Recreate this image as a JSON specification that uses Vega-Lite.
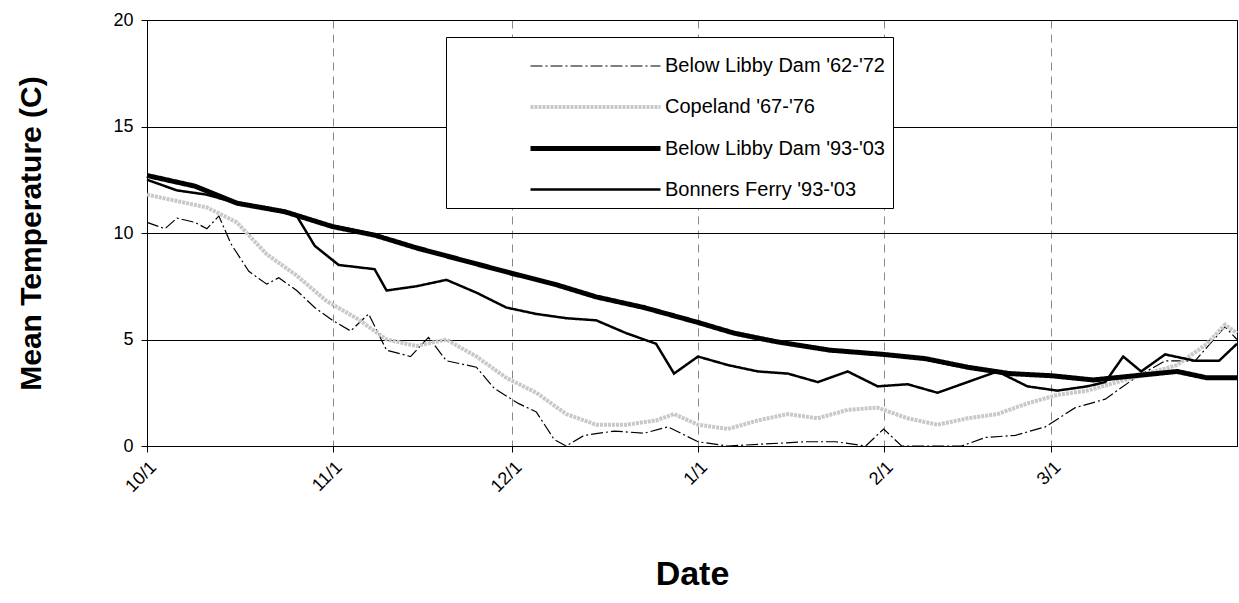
{
  "$schema": "https://vega.github.io/schema/vega-lite/v6.json",
  "width": 1090,
  "height": 426,
  "autosize": {"type": "none"},
  "padding": {"left": 147, "top": 20, "right": 2, "bottom": 157},
  "background": "white",
  "data": {"values": [
    {"s":"Below Libby Dam '62-'72","d":0,"t":10.5},{"s":"Below Libby Dam '62-'72","d":3,"t":10.2},{"s":"Below Libby Dam '62-'72","d":5,"t":10.7},{"s":"Below Libby Dam '62-'72","d":8,"t":10.5},{"s":"Below Libby Dam '62-'72","d":10,"t":10.2},{"s":"Below Libby Dam '62-'72","d":12,"t":10.8},{"s":"Below Libby Dam '62-'72","d":14,"t":9.5},{"s":"Below Libby Dam '62-'72","d":17,"t":8.2},{"s":"Below Libby Dam '62-'72","d":20,"t":7.6},{"s":"Below Libby Dam '62-'72","d":22,"t":7.9},{"s":"Below Libby Dam '62-'72","d":25,"t":7.3},{"s":"Below Libby Dam '62-'72","d":28,"t":6.5},{"s":"Below Libby Dam '62-'72","d":31,"t":5.9},{"s":"Below Libby Dam '62-'72","d":34,"t":5.4},{"s":"Below Libby Dam '62-'72","d":37,"t":6.2},{"s":"Below Libby Dam '62-'72","d":40,"t":4.5},{"s":"Below Libby Dam '62-'72","d":44,"t":4.2},{"s":"Below Libby Dam '62-'72","d":47,"t":5.1},{"s":"Below Libby Dam '62-'72","d":50,"t":4.0},{"s":"Below Libby Dam '62-'72","d":55,"t":3.7},{"s":"Below Libby Dam '62-'72","d":58,"t":2.7},{"s":"Below Libby Dam '62-'72","d":62,"t":2.0},{"s":"Below Libby Dam '62-'72","d":65,"t":1.6},{"s":"Below Libby Dam '62-'72","d":68,"t":0.3},{"s":"Below Libby Dam '62-'72","d":70,"t":0},{"s":"Below Libby Dam '62-'72","d":73,"t":0.5},{"s":"Below Libby Dam '62-'72","d":78,"t":0.7},{"s":"Below Libby Dam '62-'72","d":83,"t":0.6},{"s":"Below Libby Dam '62-'72","d":87,"t":0.9},{"s":"Below Libby Dam '62-'72","d":92,"t":0.2},{"s":"Below Libby Dam '62-'72","d":97,"t":0},{"s":"Below Libby Dam '62-'72","d":110,"t":0.2},{"s":"Below Libby Dam '62-'72","d":115,"t":0.2},{"s":"Below Libby Dam '62-'72","d":120,"t":0},{"s":"Below Libby Dam '62-'72","d":123,"t":0.8},{"s":"Below Libby Dam '62-'72","d":126,"t":0},{"s":"Below Libby Dam '62-'72","d":136,"t":0},{"s":"Below Libby Dam '62-'72","d":140,"t":0.4},{"s":"Below Libby Dam '62-'72","d":145,"t":0.5},{"s":"Below Libby Dam '62-'72","d":150,"t":0.9},{"s":"Below Libby Dam '62-'72","d":155,"t":1.8},{"s":"Below Libby Dam '62-'72","d":160,"t":2.2},{"s":"Below Libby Dam '62-'72","d":165,"t":3.2},{"s":"Below Libby Dam '62-'72","d":170,"t":4.0},{"s":"Below Libby Dam '62-'72","d":175,"t":4.0},{"s":"Below Libby Dam '62-'72","d":180,"t":5.6},{"s":"Below Libby Dam '62-'72","d":182,"t":5.0},

    {"s":"Copeland '67-'76","d":0,"t":11.8},{"s":"Copeland '67-'76","d":5,"t":11.5},{"s":"Copeland '67-'76","d":10,"t":11.2},{"s":"Copeland '67-'76","d":15,"t":10.5},{"s":"Copeland '67-'76","d":20,"t":9.0},{"s":"Copeland '67-'76","d":25,"t":8.0},{"s":"Copeland '67-'76","d":30,"t":6.8},{"s":"Copeland '67-'76","d":35,"t":6.0},{"s":"Copeland '67-'76","d":40,"t":5.0},{"s":"Copeland '67-'76","d":45,"t":4.7},{"s":"Copeland '67-'76","d":50,"t":5.0},{"s":"Copeland '67-'76","d":55,"t":4.2},{"s":"Copeland '67-'76","d":60,"t":3.2},{"s":"Copeland '67-'76","d":65,"t":2.5},{"s":"Copeland '67-'76","d":70,"t":1.5},{"s":"Copeland '67-'76","d":75,"t":1.0},{"s":"Copeland '67-'76","d":80,"t":1.0},{"s":"Copeland '67-'76","d":85,"t":1.2},{"s":"Copeland '67-'76","d":88,"t":1.5},{"s":"Copeland '67-'76","d":92,"t":1.0},{"s":"Copeland '67-'76","d":97,"t":0.8},{"s":"Copeland '67-'76","d":102,"t":1.2},{"s":"Copeland '67-'76","d":107,"t":1.5},{"s":"Copeland '67-'76","d":112,"t":1.3},{"s":"Copeland '67-'76","d":117,"t":1.7},{"s":"Copeland '67-'76","d":122,"t":1.8},{"s":"Copeland '67-'76","d":127,"t":1.3},{"s":"Copeland '67-'76","d":132,"t":1.0},{"s":"Copeland '67-'76","d":137,"t":1.3},{"s":"Copeland '67-'76","d":142,"t":1.5},{"s":"Copeland '67-'76","d":147,"t":2.0},{"s":"Copeland '67-'76","d":152,"t":2.4},{"s":"Copeland '67-'76","d":157,"t":2.6},{"s":"Copeland '67-'76","d":162,"t":3.0},{"s":"Copeland '67-'76","d":167,"t":3.4},{"s":"Copeland '67-'76","d":172,"t":3.8},{"s":"Copeland '67-'76","d":177,"t":4.8},{"s":"Copeland '67-'76","d":180,"t":5.7},{"s":"Copeland '67-'76","d":182,"t":5.3},

    {"s":"Below Libby Dam '93-'03","d":0,"t":12.7},{"s":"Below Libby Dam '93-'03","d":8,"t":12.2},{"s":"Below Libby Dam '93-'03","d":15,"t":11.4},{"s":"Below Libby Dam '93-'03","d":23,"t":11.0},{"s":"Below Libby Dam '93-'03","d":31,"t":10.3},{"s":"Below Libby Dam '93-'03","d":38,"t":9.9},{"s":"Below Libby Dam '93-'03","d":45,"t":9.3},{"s":"Below Libby Dam '93-'03","d":53,"t":8.7},{"s":"Below Libby Dam '93-'03","d":61,"t":8.1},{"s":"Below Libby Dam '93-'03","d":68,"t":7.6},{"s":"Below Libby Dam '93-'03","d":75,"t":7.0},{"s":"Below Libby Dam '93-'03","d":83,"t":6.5},{"s":"Below Libby Dam '93-'03","d":92,"t":5.8},{"s":"Below Libby Dam '93-'03","d":98,"t":5.3},{"s":"Below Libby Dam '93-'03","d":105,"t":4.9},{"s":"Below Libby Dam '93-'03","d":114,"t":4.5},{"s":"Below Libby Dam '93-'03","d":123,"t":4.3},{"s":"Below Libby Dam '93-'03","d":130,"t":4.1},{"s":"Below Libby Dam '93-'03","d":137,"t":3.7},{"s":"Below Libby Dam '93-'03","d":144,"t":3.4},{"s":"Below Libby Dam '93-'03","d":151,"t":3.3},{"s":"Below Libby Dam '93-'03","d":158,"t":3.1},{"s":"Below Libby Dam '93-'03","d":165,"t":3.3},{"s":"Below Libby Dam '93-'03","d":172,"t":3.5},{"s":"Below Libby Dam '93-'03","d":177,"t":3.2},{"s":"Below Libby Dam '93-'03","d":182,"t":3.2},

    {"s":"Bonners Ferry '93-'03","d":0,"t":12.5},{"s":"Bonners Ferry '93-'03","d":5,"t":12.0},{"s":"Bonners Ferry '93-'03","d":10,"t":11.8},{"s":"Bonners Ferry '93-'03","d":15,"t":11.4},{"s":"Bonners Ferry '93-'03","d":20,"t":11.2},{"s":"Bonners Ferry '93-'03","d":25,"t":10.8},{"s":"Bonners Ferry '93-'03","d":28,"t":9.4},{"s":"Bonners Ferry '93-'03","d":32,"t":8.5},{"s":"Bonners Ferry '93-'03","d":38,"t":8.3},{"s":"Bonners Ferry '93-'03","d":40,"t":7.3},{"s":"Bonners Ferry '93-'03","d":45,"t":7.5},{"s":"Bonners Ferry '93-'03","d":50,"t":7.8},{"s":"Bonners Ferry '93-'03","d":55,"t":7.2},{"s":"Bonners Ferry '93-'03","d":60,"t":6.5},{"s":"Bonners Ferry '93-'03","d":65,"t":6.2},{"s":"Bonners Ferry '93-'03","d":70,"t":6.0},{"s":"Bonners Ferry '93-'03","d":75,"t":5.9},{"s":"Bonners Ferry '93-'03","d":80,"t":5.3},{"s":"Bonners Ferry '93-'03","d":85,"t":4.8},{"s":"Bonners Ferry '93-'03","d":88,"t":3.4},{"s":"Bonners Ferry '93-'03","d":92,"t":4.2},{"s":"Bonners Ferry '93-'03","d":97,"t":3.8},{"s":"Bonners Ferry '93-'03","d":102,"t":3.5},{"s":"Bonners Ferry '93-'03","d":107,"t":3.4},{"s":"Bonners Ferry '93-'03","d":112,"t":3.0},{"s":"Bonners Ferry '93-'03","d":117,"t":3.5},{"s":"Bonners Ferry '93-'03","d":122,"t":2.8},{"s":"Bonners Ferry '93-'03","d":127,"t":2.9},{"s":"Bonners Ferry '93-'03","d":132,"t":2.5},{"s":"Bonners Ferry '93-'03","d":137,"t":3.0},{"s":"Bonners Ferry '93-'03","d":142,"t":3.5},{"s":"Bonners Ferry '93-'03","d":147,"t":2.8},{"s":"Bonners Ferry '93-'03","d":152,"t":2.6},{"s":"Bonners Ferry '93-'03","d":157,"t":2.8},{"s":"Bonners Ferry '93-'03","d":160,"t":3.0},{"s":"Bonners Ferry '93-'03","d":163,"t":4.2},{"s":"Bonners Ferry '93-'03","d":166,"t":3.5},{"s":"Bonners Ferry '93-'03","d":170,"t":4.3},{"s":"Bonners Ferry '93-'03","d":175,"t":4.0},{"s":"Bonners Ferry '93-'03","d":179,"t":4.0},{"s":"Bonners Ferry '93-'03","d":182,"t":4.8}
  ]},
  "mark": {"type": "line"},
  "encoding": {
    "x": {"field": "d", "type": "quantitative", "scale": {"domain": [0, 182], "nice": false, "zero": false},
      "axis": {"values": [0, 31, 61, 92, 123, 151], "labelExpr": "datum.value==0?'10/1':datum.value==31?'11/1':datum.value==61?'12/1':datum.value==92?'1/1':datum.value==123?'2/1':'3/1'",
        "labelAngle": -45, "labelAlign": "right", "labelBaseline": "top", "labelFontSize": 18, "labelPadding": 6,
        "title": "Date", "titleFontSize": 34, "titleFontWeight": "bold", "titlePadding": 62,
        "grid": true, "gridColor": "#888", "gridDash": [8, 6], "tickColor": "black", "tickSize": 6, "domainColor": "black"}},
    "y": {"field": "t", "type": "quantitative", "scale": {"domain": [0, 20], "nice": false},
      "axis": {"values": [0, 5, 10, 15, 20], "labelFontSize": 18, "labelPadding": 8, "title": "Mean Temperature (C)",
        "titleFontSize": 30, "titleFontWeight": "bold", "titlePadding": 66,
        "grid": true, "gridColor": "black", "tickColor": "black", "tickSize": 6, "domainColor": "black"}},
    "color": {"field": "s", "type": "nominal", "sort": null,
      "scale": {"domain": ["Below Libby Dam '62-'72", "Copeland '67-'76", "Below Libby Dam '93-'03", "Bonners Ferry '93-'03"], "range": ["black", "#c8c8c8", "black", "black"]},
      "legend": {"orient": "none", "legendX": 299, "legendY": 17, "title": null, "symbolType": "M2.7,0H9.2", "symbolSize": 1600,
        "labelFontSize": 20, "rowPadding": 9, "padding": 8, "fillColor": "white", "strokeColor": "black", "labelLimit": 400, "labelOffset": 166}},
    "strokeWidth": {"field": "s", "type": "nominal", "sort": null,
      "scale": {"type": "ordinal", "domain": ["Below Libby Dam '62-'72", "Copeland '67-'76", "Below Libby Dam '93-'03", "Bonners Ferry '93-'03"], "range": [1.2, 4, 5, 2.5]}},
    "strokeDash": {"field": "s", "type": "nominal", "sort": null,
      "scale": {"domain": ["Below Libby Dam '62-'72", "Copeland '67-'76", "Below Libby Dam '93-'03", "Bonners Ferry '93-'03"], "range": [[12, 3, 2, 3], [3, 1], [1, 0], [1, 0]]}}
  },
  "config": {"font": "Liberation Sans", "view": {"stroke": "black"}, "axis": {"labelColor": "black", "titleColor": "black"}}
}
